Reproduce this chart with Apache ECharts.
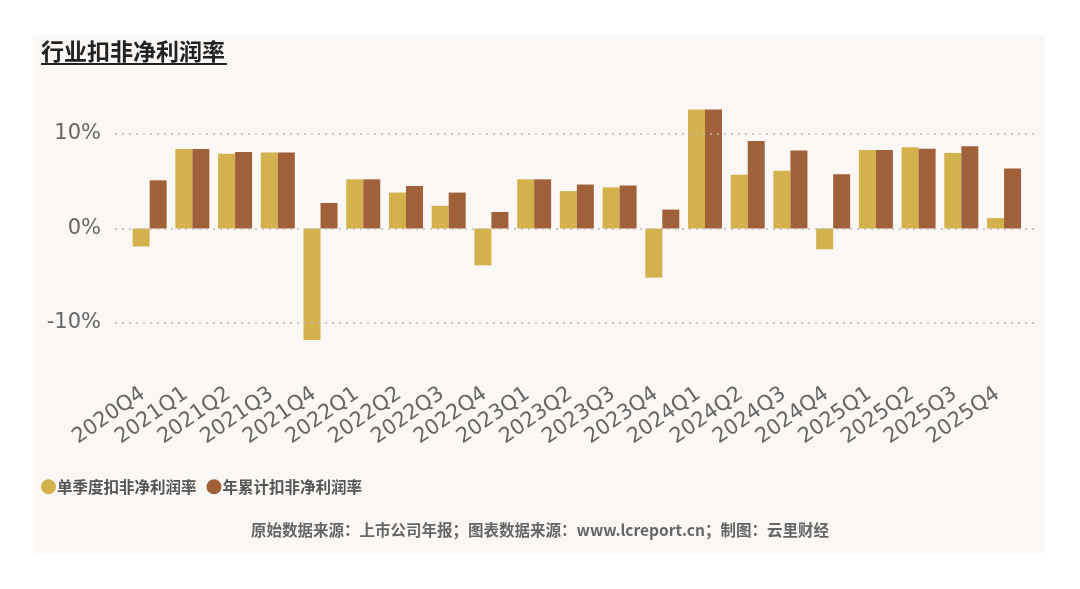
<!DOCTYPE html>
<html><head><meta charset="utf-8">
<script src="https://cdn.jsdelivr.net/npm/echarts@6/dist/echarts.min.js"></script>
<style>html,body{margin:0;padding:0;background:#fff;}#c{width:1080px;height:589px;}</style>
</head><body><div id="c"></div>
<script>
const categories = ['2020Q4','2021Q1','2021Q2','2021Q3','2021Q4','2022Q1','2022Q2','2022Q3','2022Q4','2023Q1','2023Q2','2023Q3','2023Q4','2024Q1','2024Q2','2024Q3','2024Q4','2025Q1','2025Q2','2025Q3','2025Q4'];
const quarterMargin = [-1.9, 8.4, 7.9, 8.05, -11.8, 5.2, 3.8, 2.4, -3.9, 5.2, 3.95, 4.35, -5.2, 12.6, 5.7, 6.1, -2.2, 8.3, 8.6, 8.0, 1.1];
const cumulativeMargin = [5.1, 8.4, 8.1, 8.05, 2.7, 5.2, 4.5, 3.8, 1.75, 5.2, 4.65, 4.55, 2.0, 12.6, 9.25, 8.25, 5.75, 8.3, 8.45, 8.7, 6.35];
const yTicks = [-10, 0, 10];
const seriesNames = ['单季度扣非净利润率', '年累计扣非净利润率'];
const titleText = '行业扣非净利润率';
const sourceText = '原始数据来源：上市公司年报；图表数据来源：www.lcreport.cn；制图：云里财经';
</script>
<script>
const chart = echarts.init(document.getElementById('c'));
const YEL = '#d3b24d', BRN = '#a0603a';
chart.setOption({
  backgroundColor: '#ffffff',
  animation: false,
  graphic: [
    {type:'rect', z:-10, shape:{x:33,y:35,width:1012,height:518}, style:{fill:'#faf7f4'}},
    {type:'text', left:41, top:40, style:{text:titleText, fill:'#222', font:'bold 23px "Noto Sans CJK SC"'}},
    {type:'line', shape:{x1:41,y1:64,x2:227,y2:64}, style:{stroke:'#222', lineWidth:2}},
    {type:'text', left:'center', top:522, style:{text:sourceText, fill:'#666', font:'bold 15.5px "Noto Sans CJK SC"'}}
  ],
  legend: {
    left: 36, top: 474, itemGap: 10, itemWidth: 15, itemHeight: 15, icon: 'circle',
    data: seriesNames,
    textStyle: {color:'#555', fontSize:15.5, fontWeight:'bold', fontFamily:'"Noto Sans CJK SC"', padding:[0,0,0,-4]}
  },
  grid: [
    {left:128.3, right:54.6, top:86.75, bottom:218.75},
    {left:115, right:46, top:39.5, bottom:171.5}
  ],
  xAxis: [
    {type:'category', gridIndex:0, data:categories,
     axisLine:{show:false}, axisTick:{show:false},
     axisLabel:{rotate:35, interval:0, margin:17, padding:[0,8,0,0], color:'#666', fontSize:21, fontFamily:'DejaVu Sans'}},
    {type:'value', gridIndex:1, min:0, max:1, show:false}
  ],
  yAxis: [
    {type:'value', gridIndex:0, min:-15, max:15, show:false},
    {type:'value', gridIndex:1, min:-20, max:20, interval:10,
     axisLine:{show:false}, axisTick:{show:false}, splitLine:{show:false},
     axisLabel:{margin:14, color:'#666', fontSize:21, fontFamily:'DejaVu Sans',
       formatter: v => yTicks.indexOf(v) >= 0 ? v + '%' : ''}}
  ],
  series: [
    {name:seriesNames[0], type:'bar', xAxisIndex:0, yAxisIndex:0, data:quarterMargin, barWidth:17, barGap:'0%', itemStyle:{color:YEL}, z:2},
    {name:seriesNames[1], type:'bar', xAxisIndex:0, yAxisIndex:0, data:cumulativeMargin, barWidth:17, barGap:'0%', itemStyle:{color:BRN}, z:2},
    {type:'line', xAxisIndex:1, yAxisIndex:1, data:[], z:1, silent:true,
     markLine:{symbol:'none', silent:true, label:{show:false},
       lineStyle:{type:[2,5], color:'#bbb', width:1.5},
       data: yTicks.map(t => ({yAxis:t}))}}
  ]
});
</script>
</body></html>
